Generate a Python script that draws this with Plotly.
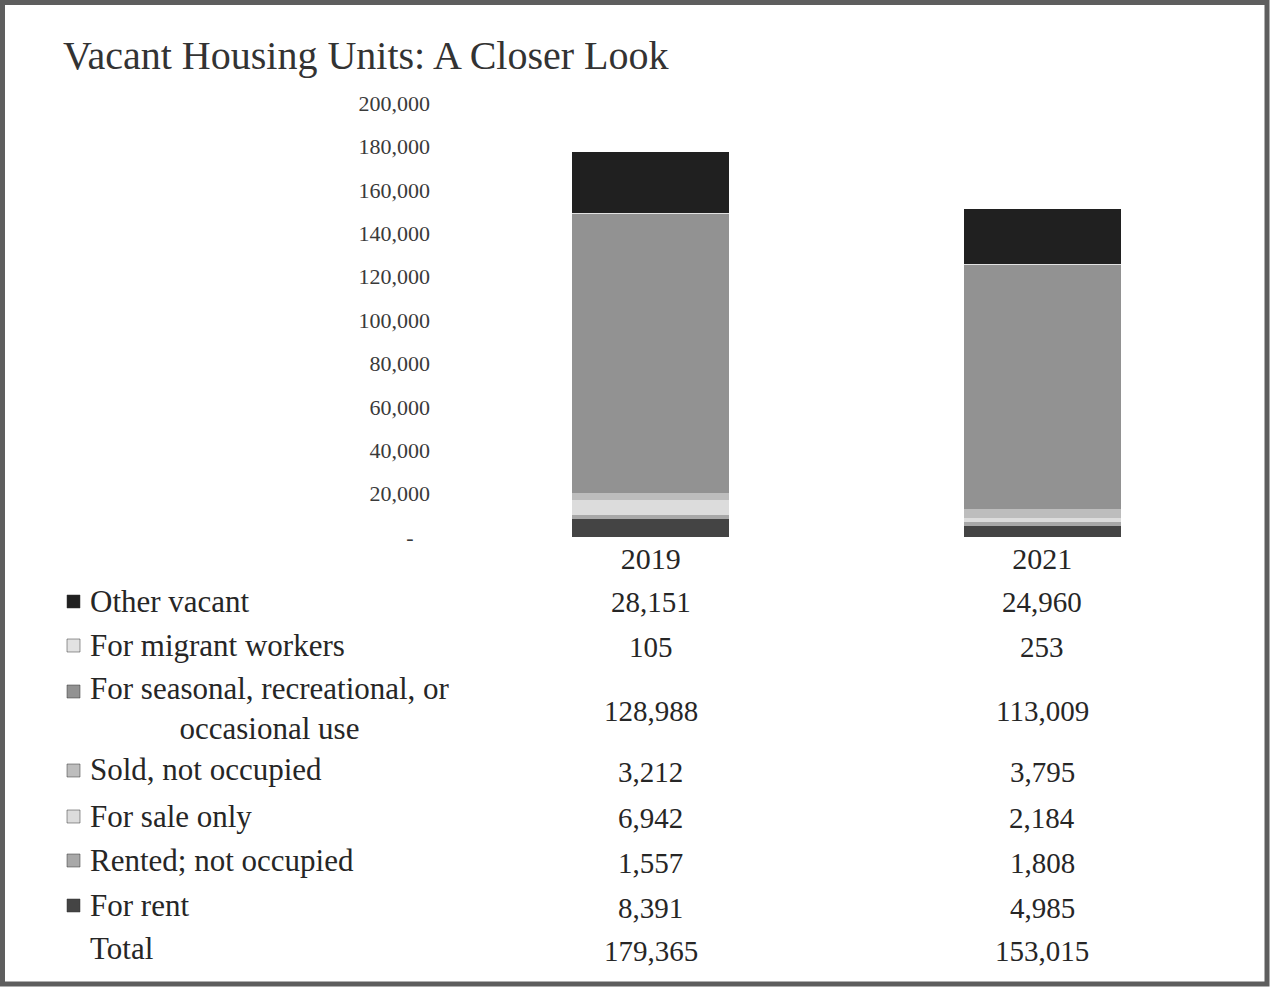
import plotly.graph_objects as go

# data
years = ['2019', '2021']
other_vacant = [28151, 24960]
migrant = [105, 253]
seasonal = [128988, 113009]
sold = [3212, 3795]
for_sale = [6942, 2184]
rented = [1557, 1808]
for_rent = [8391, 4985]
total = [179365, 153015]

y_ticks = [0, 20000, 40000, 60000, 80000, 100000, 120000, 140000, 160000, 180000, 200000]
y_ticktext = ['-\u00a0\u00a0\u00a0'] + [f'{v:,}' for v in y_ticks[1:]]

# series from bottom of the stack to top
series = [
    ('For rent', for_rent, '#444444'),
    ('Rented; not occupied', rented, '#a8a8a8'),
    ('For sale only', for_sale, '#dcdcdc'),
    ('Sold, not occupied', sold, '#bdbdbd'),
    ('For seasonal, recreational, or<br>occasional use', seasonal, '#929292'),
    ('For migrant workers', migrant, '#e2e2e2'),
    ('Other vacant', other_vacant, '#202020'),
]

W, H = 1272, 987
L, R, T, B = 455, 1238, 103, 537


def px(x):
    return (x - L) / (R - L)


def py(y):
    return (B - y) / (B - T)


FONT = 'Liberation Serif'
TXT = '#262626'

fig = go.Figure()
for name, vals, col in series:
    fig.add_trace(go.Bar(x=years, y=vals, name=name, marker=dict(color=col, line=dict(width=0)),
                         showlegend=False))

# table rows (top to bottom), pixel y of label and of values
rows = [
    ('Other vacant', other_vacant, '#202020', 601, 602),
    ('For migrant workers', migrant, '#e2e2e2', 645, 647),
    ('For seasonal, recreational, or<br>occasional use', seasonal, '#929292', 708, 711),
    ('Sold, not occupied', sold, '#bdbdbd', 770, 772),
    ('For sale only', for_sale, '#dcdcdc', 816, 818),
    ('Rented; not occupied', rented, '#a8a8a8', 860, 863),
    ('For rent', for_rent, '#444444', 905, 908),
    ('Total', total, None, 948, 951),
]

annotations = [dict(text='Vacant Housing Units: A Closer Look', xref='paper', yref='paper',
                    x=px(61), y=py(55), xanchor='left', yanchor='middle', showarrow=False,
                    font=dict(family=FONT, size=40, color='#333333'))]
shapes = [dict(type='rect', xref='paper', yref='paper', x0=px(2.5), x1=px(1267), y0=py(984), y1=py(2.5),
               line=dict(color='#5e5e5e', width=5))]

for label, vals, col, ylab, yval in rows:
    annotations.append(dict(text=label, xref='paper', yref='paper', x=px(88), y=py(ylab),
                            xanchor='left', yanchor='middle', align='center', showarrow=False,
                            font=dict(family=FONT, size=31, color=TXT)))
    for i, v in enumerate(vals):
        annotations.append(dict(text=f'{v:,}', xref='x', yref='paper', x=i, y=py(yval),
                                xanchor='center', yanchor='middle', showarrow=False,
                                font=dict(family=FONT, size=29, color=TXT)))
    if col is not None:
        first_line = ylab - 17 if '<br>' in label else ylab
        shapes.append(dict(type='rect', xref='paper', yref='paper', x0=px(67), x1=px(80),
                           y0=py(first_line + 7), y1=py(first_line - 6),
                           fillcolor=col, line=dict(color='#333333', width=0.5)))

fig.update_layout(
    barmode='stack',
    bargap=0.6,
    width=W, height=H,
    margin=dict(l=L, r=W - R, t=T, b=H - B),
    paper_bgcolor='white',
    plot_bgcolor='white',
    font=dict(family=FONT, color=TXT),
    xaxis=dict(type='category', range=[-0.5, 1.5], showgrid=False, showline=False, zeroline=False,
               ticks='', tickfont=dict(family=FONT, size=30, color=TXT), ticklabelstandoff=1),
    yaxis=dict(range=[0, 200000], tickvals=y_ticks, ticktext=y_ticktext, showgrid=False,
               zeroline=False, showline=False, ticks='', ticklabelstandoff=24,
               tickfont=dict(family=FONT, size=22, color='#3a3a3a')),
    annotations=annotations,
    shapes=shapes,
)

fig.write_html('out.html', config={'displayModeBar': False},
               post_script="document.body.style.margin='0';")
